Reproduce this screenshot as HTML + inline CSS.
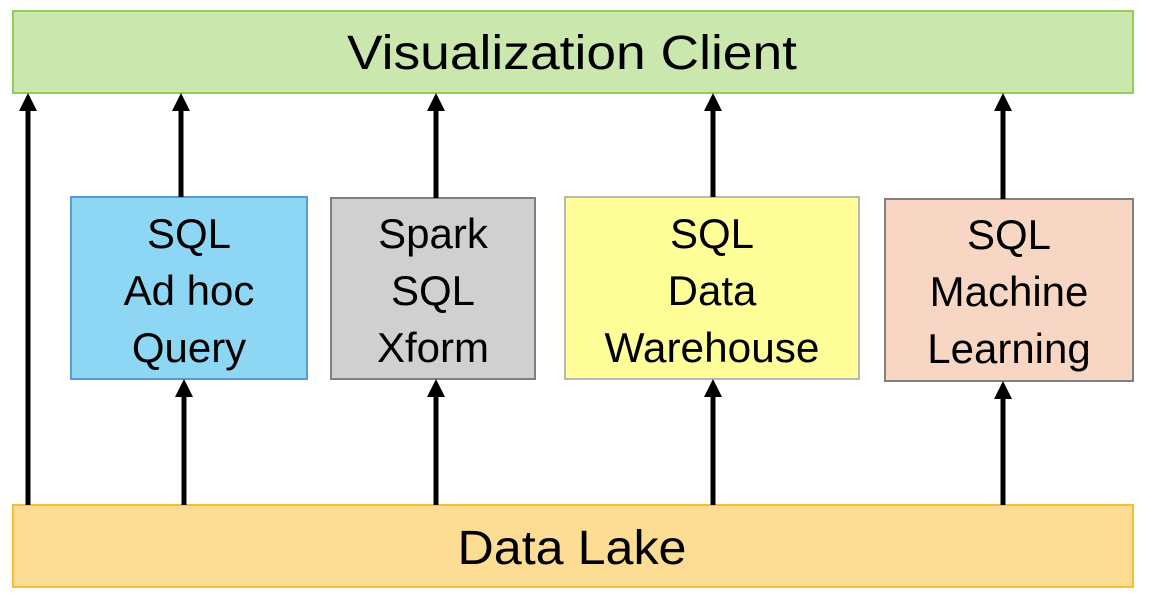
<!DOCTYPE html>
<html><head><meta charset="utf-8"><style>html,body{margin:0;padding:0;background:#fff}svg{display:block}</style></head>
<body>
<svg width="1156" height="602" viewBox="0 0 1156 602" xmlns="http://www.w3.org/2000/svg" font-family="Liberation Sans, sans-serif">
<rect x="13" y="11" width="1120" height="82" fill="#cae7ad" stroke="#8fcf5a" stroke-width="2"/>
<text x="572" y="69" font-size="48" text-anchor="middle" textLength="450" lengthAdjust="spacingAndGlyphs">Visualization Client</text>
<rect x="13" y="505" width="1120" height="82" fill="#fddc93" stroke="#f7bf2c" stroke-width="2"/>
<text x="572" y="564" font-size="48" text-anchor="middle" textLength="229" lengthAdjust="spacingAndGlyphs">Data Lake</text>

<rect x="71" y="197" width="236" height="182" fill="#8dd6f4" stroke="#5b9bd5" stroke-width="2"/>
<rect x="331" y="198" width="204" height="181" fill="#d0d0d0" stroke="#808080" stroke-width="2"/>
<rect x="565" y="197" width="294" height="182" fill="#ffff9a" stroke="#b8b8b8" stroke-width="2"/>
<rect x="885" y="199" width="248" height="182" fill="#f7d7c3" stroke="#808080" stroke-width="2"/>

<g font-size="42" text-anchor="middle">
<text x="189" y="248">SQL</text><text x="189" y="305">Ad hoc</text><text x="189" y="362">Query</text>
<text x="433" y="248">Spark</text><text x="433" y="305">SQL</text><text x="433" y="362">Xform</text>
<text x="712" y="248">SQL</text><text x="712" y="305">Data</text><text x="712" y="362" textLength="215" lengthAdjust="spacingAndGlyphs">Warehouse</text>
<text x="1009" y="249">SQL</text><text x="1009" y="306">Machine</text><text x="1009" y="363">Learning</text>
</g>

<g stroke="#000" stroke-width="5" fill="none">
<line x1="28" y1="505" x2="28" y2="110"/>
<line x1="181" y1="197" x2="181" y2="110"/>
<line x1="436" y1="198" x2="436" y2="110"/>
<line x1="713" y1="197" x2="713" y2="110"/>
<line x1="1003" y1="199" x2="1003" y2="110"/>
<line x1="184" y1="505" x2="184" y2="396"/>
<line x1="436" y1="505" x2="436" y2="396"/>
<line x1="713" y1="505" x2="713" y2="396"/>
<line x1="1003" y1="505" x2="1003" y2="398"/>
</g>
<g fill="#000">
<path d="M19,111 L28,93 L37,111 z"/>
<path d="M172,111 L181,93 L190,111 z"/>
<path d="M427,111 L436,93 L445,111 z"/>
<path d="M704,111 L713,93 L722,111 z"/>
<path d="M994,111 L1003,93 L1012,111 z"/>
<path d="M175,397 L184,379 L193,397 z"/>
<path d="M427,397 L436,379 L445,397 z"/>
<path d="M704,397 L713,379 L722,397 z"/>
<path d="M994,399 L1003,381 L1012,399 z"/>
</g>
</svg>
</body></html>
